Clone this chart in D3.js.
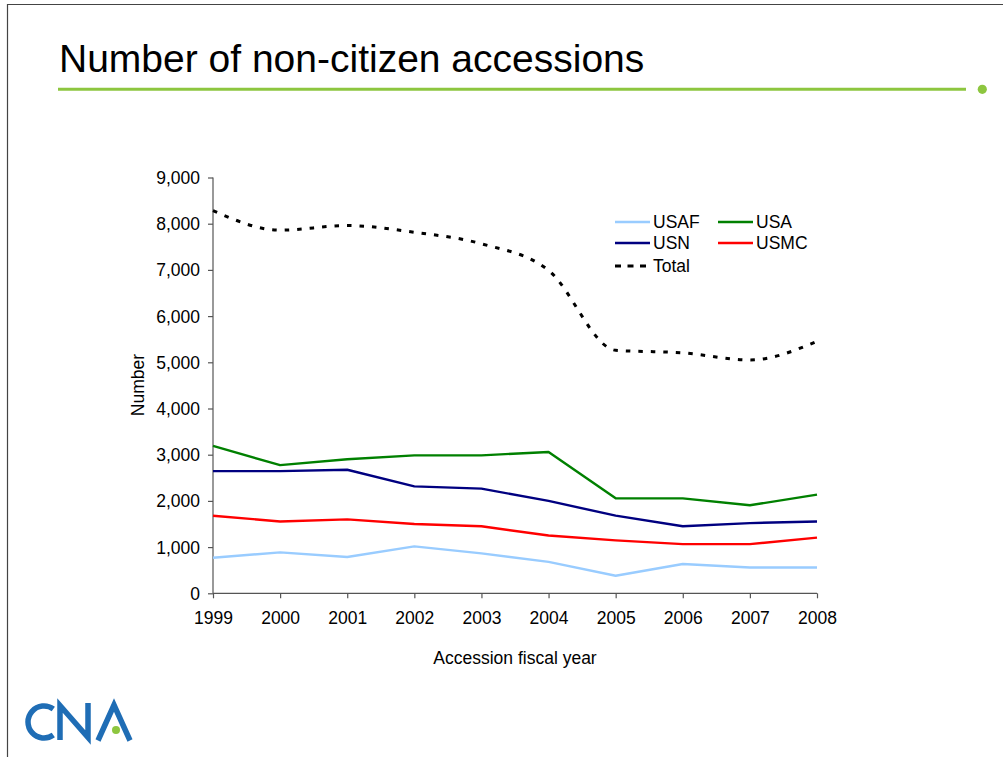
<!DOCTYPE html>
<html>
<head>
<meta charset="utf-8">
<script src="https://cdn.jsdelivr.net/npm/d3@7/dist/d3.min.js"></script>
<style>
  html, body { margin: 0; padding: 0; background: #fff; }
  svg { display: block; font-family: "Liberation Sans", Arial, sans-serif; }
</style>
</head>
<body>
<svg id="chart" width="1003" height="757"></svg>
<script>
// Non-citizen accessions by service, FY1999–FY2008
const years = [1999, 2000, 2001, 2002, 2003, 2004, 2005, 2006, 2007, 2008];
const usaf  = [770, 885, 785, 1015, 865, 680, 380, 635, 560, 560];
const usa   = [3190, 2775, 2900, 2985, 2985, 3060, 2055, 2055, 1905, 2135];
const usn   = [2645, 2645, 2675, 2315, 2265, 2000, 1680, 1450, 1520, 1555];
const usmc  = [1680, 1555, 1600, 1500, 1450, 1250, 1145, 1065, 1065, 1205];
const total = [8285, 7860, 7960, 7815, 7565, 6990, 5260, 5205, 5050, 5455];
const yTicks = [0, 1000, 2000, 3000, 4000, 5000, 6000, 7000, 8000, 9000];

const series = [
  { name: "USAF",  values: usaf,  color: "#99ccff", dashed: false },
  { name: "USA",   values: usa,   color: "#008000", dashed: false },
  { name: "USN",   values: usn,   color: "#000080", dashed: false },
  { name: "USMC",  values: usmc,  color: "#ff0000", dashed: false },
  { name: "Total", values: total, color: "#000000", dashed: true }
];

const svg = d3.select("#chart");
const fontSize = 17.5;

// Slide frame
svg.append("path")
  .attr("d", "M7.5,757 V4.5 H1003")
  .attr("fill", "none").attr("stroke", "#444").attr("stroke-width", 1.2);

// Title and rule
svg.append("text")
  .attr("x", 59).attr("y", 72)
  .attr("font-size", 39).attr("fill", "#000")
  .text("Number of non-citizen accessions");
svg.append("line")
  .attr("x1", 58).attr("x2", 966).attr("y1", 89.3).attr("y2", 89.3)
  .attr("stroke", "#8dc63f").attr("stroke-width", 3);
svg.append("circle")
  .attr("cx", 982.3).attr("cy", 89.3).attr("r", 4.6).attr("fill", "#8dc63f");

// Plot area
const x = d3.scalePoint().domain(years).range([213, 817]);
const y = d3.scaleLinear().domain([0, 9000]).range([593.3, 177.5]);

const axisColor = "#555";

const yAxis = svg.append("g")
  .attr("transform", "translate(213,0)")
  .call(d3.axisLeft(y).tickValues(yTicks).tickSize(5).tickPadding(8)
    .tickFormat(d3.format(",")));
const xAxis = svg.append("g")
  .attr("transform", "translate(0,593.3)")
  .call(d3.axisBottom(x).tickSize(5).tickPadding(13).tickFormat(d3.format("d")));

[yAxis, xAxis].forEach(g => {
  g.selectAll("path, line").attr("stroke", axisColor).attr("stroke-width", 1.2);
  g.select(".domain").attr("d", g === yAxis ? "M0,593.3V177.5" : "M213,0H817");
  g.selectAll("text").attr("font-size", fontSize).attr("fill", "#000")
    .attr("font-family", "Liberation Sans, Arial, sans-serif");
});
yAxis.selectAll(".tick text").attr("dy", "0.34em");

// Axis titles
svg.append("text")
  .attr("transform", "translate(144,385) rotate(-90)")
  .attr("text-anchor", "middle").attr("font-size", fontSize).text("Number");
svg.append("text")
  .attr("x", 515).attr("y", 664)
  .attr("text-anchor", "middle").attr("font-size", fontSize).text("Accession fiscal year");

// Lines: services straight, total smoothed
const straight = d3.line().x((d, i) => x(years[i])).y(d => y(d));
const smooth = d3.line().x((d, i) => x(years[i])).y(d => y(d))
  .curve(d3.curveMonotoneX);

series.forEach(s => {
  svg.append("path")
    .datum(s.values)
    .attr("fill", "none")
    .attr("stroke", s.color)
    .attr("stroke-width", s.dashed ? 3 : 2.4)
    .attr("stroke-dasharray", s.dashed ? "4.5 8" : null)
    .attr("stroke-linejoin", "round")
    .attr("d", s.dashed ? smooth(s.values) : straight(s.values));
});

// Legend
const legendPos = {
  USAF:  [615, 222], USA:  [718, 222],
  USN:   [615, 243], USMC: [718, 243],
  Total: [615, 266]
};
series.forEach(s => {
  const [lx, ly] = legendPos[s.name];
  svg.append("line")
    .attr("x1", lx).attr("x2", lx + 35).attr("y1", ly).attr("y2", ly)
    .attr("stroke", s.color)
    .attr("stroke-width", s.dashed ? 3 : 2.4)
    .attr("stroke-dasharray", s.dashed ? "6 6.5" : null);
  svg.append("text")
    .attr("x", lx + 38).attr("y", ly).attr("dy", "0.35em")
    .attr("font-size", fontSize).text(s.name);
});

// CNA logo
const logo = svg.append("g")
  .attr("fill", "none").attr("stroke", "#1f6db5").attr("stroke-width", 5.5)
  .attr("stroke-linejoin", "miter");
const cPath = d3.path();
cPath.arc(44, 722, 16, -0.95, 0.95, true); // C, open toward the right
logo.append("path").attr("d", cPath.toString());
logo.append("path").attr("d", "M60,740 V705.5 L88,737.5 V703");
logo.append("path").attr("d", "M98,740.5 L114,705 L130,740.5");
svg.append("circle").attr("cx", 116).attr("cy", 730).attr("r", 4).attr("fill", "#8dc63f");
</script>
</body>
</html>
